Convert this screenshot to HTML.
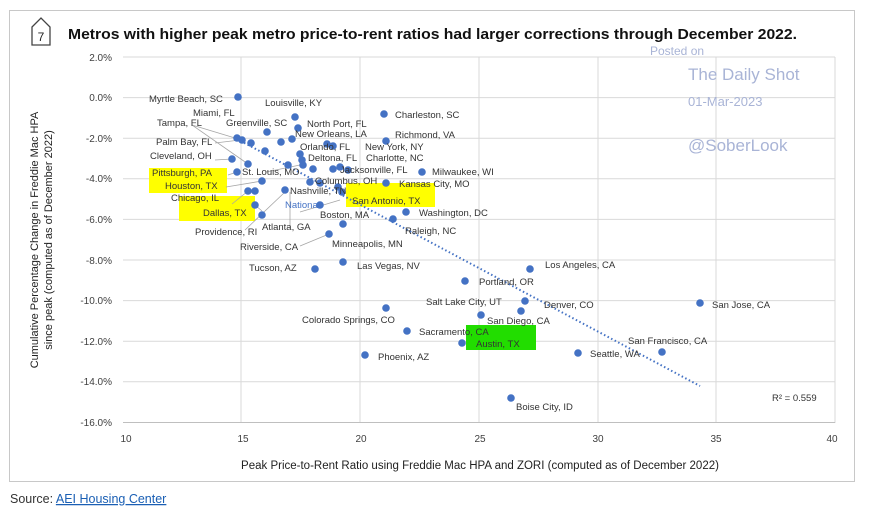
<!DOCTYPE html>
<html><head><meta charset="utf-8"><style>
body{margin:0;background:#fff;width:876px;height:511px;overflow:hidden;font-family:"Liberation Sans",Arial,sans-serif}
</style></head><body>
<svg width="876" height="511" xmlns="http://www.w3.org/2000/svg" font-family="Liberation Sans, Arial, sans-serif">
<rect x="9.5" y="10.5" width="845" height="471" fill="#fff" stroke="#c8c8c8"/>
<path d="M32 27 L41 18 L50 27 L50 45 L32 45 Z" fill="#fff" stroke="#444" stroke-width="1.3"/>
<text x="41" y="41" font-size="12" text-anchor="middle" fill="#222">7</text>
<text x="68" y="39" font-size="14.5" font-weight="bold" fill="#111" textLength="729" lengthAdjust="spacingAndGlyphs">Metros with higher peak metro price-to-rent ratios had larger corrections through December 2022.</text>
<g stroke="#d9d9d9" stroke-width="1">
<line x1="123" y1="57" x2="835" y2="57"/><line x1="123" y1="97.6" x2="835" y2="97.6"/><line x1="123" y1="138.2" x2="835" y2="138.2"/><line x1="123" y1="178.8" x2="835" y2="178.8"/><line x1="123" y1="219.4" x2="835" y2="219.4"/><line x1="123" y1="260" x2="835" y2="260"/><line x1="123" y1="300.6" x2="835" y2="300.6"/><line x1="123" y1="341.2" x2="835" y2="341.2"/><line x1="123" y1="381.8" x2="835" y2="381.8"/>
<line x1="241" y1="57" x2="241" y2="423"/><line x1="360" y1="57" x2="360" y2="423"/><line x1="479" y1="57" x2="479" y2="423"/><line x1="598" y1="57" x2="598" y2="423"/><line x1="716" y1="57" x2="716" y2="423"/><line x1="835" y1="57" x2="835" y2="423"/>
</g>
<line x1="123" y1="422.5" x2="835" y2="422.5" stroke="#bfbfbf"/>
<g font-size="10" fill="#404040" text-anchor="end">
<text x="112" y="61">2.0%</text><text x="112" y="101">0.0%</text><text x="112" y="142">-2.0%</text><text x="112" y="182">-4.0%</text><text x="112" y="223">-6.0%</text><text x="112" y="264">-8.0%</text><text x="112" y="304">-10.0%</text><text x="112" y="345">-12.0%</text><text x="112" y="385">-14.0%</text><text x="112" y="426">-16.0%</text>
</g>
<g font-size="10" fill="#404040" text-anchor="middle">
<text x="126" y="442">10</text><text x="243" y="442">15</text><text x="361" y="442">20</text><text x="480" y="442">25</text><text x="598" y="442">30</text><text x="716" y="442">35</text><text x="832" y="442">40</text>
</g>
<text x="480" y="469" font-size="11.5" fill="#222" text-anchor="middle">Peak Price-to-Rent Ratio using Freddie Mac HPA and ZORI (computed as of December 2022)</text>
<text transform="translate(38,240) rotate(-90)" font-size="11" fill="#222" text-anchor="middle">Cumulative Percentage Change in  Freddie Mac HPA</text>
<text transform="translate(52,240) rotate(-90)" font-size="11" fill="#222" text-anchor="middle">since peak (computed as of December 2022)</text>
<text x="650" y="55" font-size="12" fill="#a9b4d6">Posted on</text>
<text x="688" y="80" font-size="17" fill="#a9b4d6">The Daily Shot</text>
<text x="688" y="106" font-size="13" fill="#a9b4d6">01-Mar-2023</text>
<text x="688" y="151" font-size="17" fill="#a9b4d6">@SoberLook</text>
<rect x="149" y="168" width="78" height="25" fill="#ffff00"/>
<rect x="179" y="196" width="76" height="25" fill="#ffff00"/>
<rect x="346" y="183" width="89" height="24" fill="#ffff00"/>
<rect x="466" y="325" width="70" height="25" fill="#22dd00"/>
<line x1="237" y1="139" x2="700" y2="386" stroke="#4472c4" stroke-width="2" stroke-dasharray="1.5,2.5"/>
<g stroke="#a6a6a6" stroke-width="0.8" fill="none">
<path d="M192 125 L235 138 M192 125 L248 164 M215 143 L240 140 M215 160 L232 159 M228 175 L237 172 M226 187 L262 181 M232 204 L248 191 M262 211 L255 205 M245 230 L285 192 M290 228 L290 192 M300 246 L329 234 M300 212 L340 200 M266 172 L300 165"/>
</g>
<g fill="#4472c4">
<circle cx="238" cy="97" r="3.8"/><circle cx="295" cy="117" r="3.8"/><circle cx="298" cy="128" r="3.8"/><circle cx="384" cy="114" r="3.8"/><circle cx="267" cy="132" r="3.8"/><circle cx="281" cy="142" r="3.8"/><circle cx="292" cy="139" r="3.8"/><circle cx="237" cy="138" r="3.8"/><circle cx="242" cy="140" r="3.8"/><circle cx="251" cy="143" r="3.8"/><circle cx="265" cy="151" r="3.8"/><circle cx="327" cy="144" r="3.8"/><circle cx="333" cy="146" r="3.8"/><circle cx="386" cy="141" r="3.8"/><circle cx="300" cy="154" r="3.8"/><circle cx="302" cy="160" r="3.8"/><circle cx="303" cy="165" r="3.8"/><circle cx="288" cy="165" r="3.8"/><circle cx="232" cy="159" r="3.8"/><circle cx="248" cy="164" r="3.8"/><circle cx="237" cy="172" r="3.8"/><circle cx="262" cy="181" r="3.8"/><circle cx="313" cy="169" r="3.8"/><circle cx="333" cy="169" r="3.8"/><circle cx="340" cy="167" r="3.8"/><circle cx="348" cy="170" r="3.8"/><circle cx="422" cy="172" r="3.8"/><circle cx="386" cy="183" r="3.8"/><circle cx="310" cy="182" r="3.8"/><circle cx="320" cy="183" r="3.8"/><circle cx="338" cy="187" r="3.8"/><circle cx="342" cy="192" r="3.8"/><circle cx="248" cy="191" r="3.8"/><circle cx="255" cy="191" r="3.8"/><circle cx="285" cy="190" r="3.8"/><circle cx="255" cy="205" r="3.8"/><circle cx="262" cy="215" r="3.8"/><circle cx="320" cy="205" r="3.8"/><circle cx="343" cy="224" r="3.8"/><circle cx="329" cy="234" r="3.8"/><circle cx="406" cy="212" r="3.8"/><circle cx="393" cy="219" r="3.8"/><circle cx="315" cy="269" r="3.8"/><circle cx="343" cy="262" r="3.8"/>
<circle cx="530" cy="269" r="3.8"/><circle cx="465" cy="281" r="3.8"/><circle cx="525" cy="301" r="3.8"/><circle cx="521" cy="311" r="3.8"/><circle cx="700" cy="303" r="3.8"/><circle cx="386" cy="308" r="3.8"/><circle cx="481" cy="315" r="3.8"/><circle cx="407" cy="331" r="3.8"/><circle cx="462" cy="343" r="3.8"/><circle cx="662" cy="352" r="3.8"/><circle cx="578" cy="353" r="3.8"/><circle cx="365" cy="355" r="3.8"/><circle cx="511" cy="398" r="3.8"/>
</g>
<g font-size="9.5" fill="#333">
<text x="149" y="102">Myrtle Beach, SC</text><text x="265" y="106">Louisville, KY</text><text x="193" y="116">Miami, FL</text><text x="395" y="118">Charleston, SC</text>
<text x="157" y="126">Tampa, FL</text><text x="226" y="126">Greenville, SC</text><text x="307" y="127">North Port, FL</text>
<text x="395" y="138">Richmond, VA</text><text x="156" y="145">Palm Bay, FL</text><text x="295" y="137">New Orleans, LA</text>
<text x="300" y="150">Orlando, FL</text><text x="365" y="150">New York, NY</text><text x="150" y="159">Cleveland, OH</text>
<text x="308" y="161">Deltona, FL</text><text x="366" y="161">Charlotte, NC</text><text x="152" y="176">Pittsburgh, PA</text>
<text x="340" y="173">Jacksonville, FL</text><text x="432" y="175">Milwaukee, WI</text><text x="242" y="175">St. Louis, MO</text>
<text x="315" y="184">Columbus, OH</text><text x="399" y="187">Kansas City, MO</text><text x="165" y="189">Houston, TX</text>
<text x="290" y="194">Nashville, TN</text><text x="171" y="201">Chicago, IL</text><text x="285" y="208" fill="#4472c4">National</text>
<text x="352" y="204">San Antonio, TX</text><text x="203" y="216">Dallas, TX</text><text x="320" y="218">Boston, MA</text>
<text x="419" y="216">Washington, DC</text><text x="195" y="235">Providence, RI</text><text x="262" y="230">Atlanta, GA</text>
<text x="405" y="234">Raleigh, NC</text><text x="332" y="247">Minneapolis, MN</text><text x="240" y="250">Riverside, CA</text>
<text x="249" y="271">Tucson, AZ</text><text x="357" y="269">Las Vegas, NV</text><text x="545" y="268">Los Angeles, CA</text>
<text x="479" y="285">Portland, OR</text><text x="426" y="305">Salt Lake City, UT</text><text x="544" y="308">Denver, CO</text>
<text x="712" y="308">San Jose, CA</text><text x="302" y="323">Colorado Springs, CO</text><text x="487" y="324">San Diego, CA</text>
<text x="419" y="335">Sacramento, CA</text><text x="476" y="347">Austin, TX</text><text x="628" y="344">San Francisco, CA</text>
<text x="590" y="357">Seattle, WA</text><text x="378" y="360">Phoenix, AZ</text><text x="516" y="410">Boise City, ID</text>
<text x="772" y="401">R² = 0.559</text>
</g>
<text x="10" y="503" font-size="12.5" fill="#333">Source: <tspan fill="#1a5fb4" text-decoration="underline">AEI Housing Center</tspan></text>
</svg>
</body></html>
